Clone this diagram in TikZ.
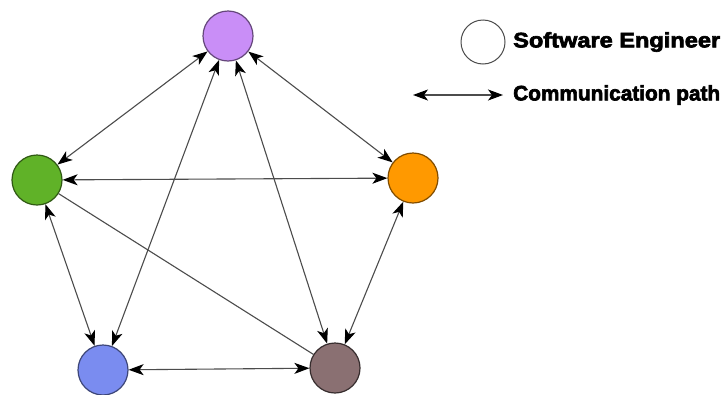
\documentclass[tikz,border=0pt]{standalone}
\usepackage{fontspec}
\usepackage{graphicx}
\newfontfamily\lf{Liberation Sans}[FakeBold=3]
\usetikzlibrary{arrows.meta}
\newcommand{\legfit}[1]{\resizebox{207pt}{\height}{#1}}
\begin{document}
\begin{tikzpicture}[x=1pt,y=-1pt,
  eng/.style={circle,minimum size=50pt,inner sep=0pt,line width=1.2pt},
  link/.style={draw=black!70,line width=1.1pt},
  both/.style={link,{Stealth[length=15pt,width=11pt,inset=4pt,black]}-{Stealth[length=15pt,width=11pt,inset=4pt,black]}},
  legtext/.style={anchor=west,inner sep=0pt,font=\lf\fontsize{21}{24}\selectfont\bfseries}]
\useasboundingbox[fill=white] (0,0) rectangle (727,394);
\definecolor{cpur}{RGB}{201,142,247}
\definecolor{cgrn}{RGB}{96,178,40}
\definecolor{corg}{RGB}{255,153,0}
\definecolor{cblu}{RGB}{122,140,240}
\definecolor{cbrn}{RGB}{138,112,114}
\node[eng,fill=cpur,draw=cpur!50!black] (p) at (228,36) {};
\node[eng,fill=cgrn,draw=cgrn!50!black] (g) at (37,180) {};
\node[eng,fill=corg,draw=corg!50!black] (o) at (413,178) {};
\node[eng,fill=cblu,draw=cblu!50!black] (b) at (103,370) {};
\node[eng,fill=cbrn,draw=cbrn!40!black] (r) at (335,368) {};
\draw[both] (p) -- (g);
\draw[both] (p) -- (o);
\draw[both] (p) -- (b);
\draw[both] (p) -- (r);
\draw[both] (g) -- (o);
\draw[both] (g) -- (b);
\draw[link] (g) -- (r);
\draw[both] (b) -- (r);
\draw[both] (o) -- (r);
% legend
\node[circle,minimum size=44pt,inner sep=0pt,draw=black!70,line width=1pt] (lc) at (483,42) {};
\node[legtext] (lt1) at (513,42) {\legfit{Software Engineer}};
\coordinate (la) at (413,95);
\coordinate (lb) at (503,95);
\draw[both] (la) -- (lb);
\node[legtext] (lt2) at (513,95) {\legfit{Communication path}};
\end{tikzpicture}
\end{document}
